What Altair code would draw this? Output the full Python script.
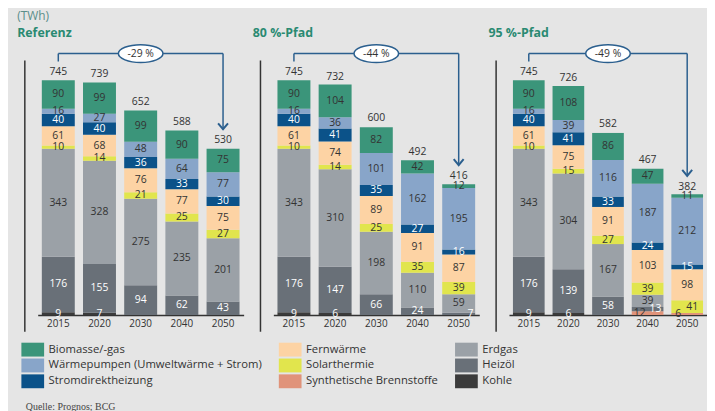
import altair as alt
import pandas as pd

# ---------------- data ----------------
years = ["2015", "2020", "2030", "2040", "2050"]
scenarios = ["Referenz", "80 %-Pfad", "95 %-Pfad"]
reductions = ["-29 %", "-44 %", "-49 %"]

# stacking order bottom -> top
stack_order = ["Synthetische Brennstoffe", "Kohle", "Heizöl", "Erdgas", "Solarthermie",
               "Fernwärme", "Stromdirektheizung", "Wärmepumpen (Umweltwärme + Strom)", "Biomasse/-gas"]

# one row per scenario (Referenz, 80 %, 95 %), one value per year
biomasse = [[90, 99, 99, 90, 75], [90, 104, 82, 42, 12], [90, 108, 86, 47, 11]]
waermepumpen = [[16, 27, 48, 64, 77], [16, 36, 101, 162, 195], [16, 39, 116, 187, 212]]
stromdirekt = [[40, 40, 36, 33, 30], [40, 41, 35, 27, 16], [40, 41, 33, 24, 15]]
fernwaerme = [[61, 68, 76, 77, 75], [61, 74, 89, 91, 87], [61, 75, 91, 103, 98]]
solarthermie = [[10, 14, 21, 25, 27], [10, 14, 25, 35, 39], [10, 15, 27, 39, 41]]
synthetisch = [[0, 0, 0, 0, 0], [0, 0, 0, 0, 0], [0, 0, 0, 12, 6]]
erdgas = [[343, 328, 275, 235, 201], [343, 310, 198, 110, 59], [343, 304, 167, 39, 0]]
heizoel = [[176, 155, 94, 62, 43], [176, 147, 66, 24, 7], [176, 139, 58, 13, 0]]
kohle = [[9, 7, 0, 0, 0], [9, 6, 0, 0, 0], [9, 6, 0, 0, 0]]
totals = [[745, 739, 652, 588, 530], [745, 732, 600, 492, 416], [745, 726, 582, 467, 382]]

series = {
    "Synthetische Brennstoffe": synthetisch,
    "Kohle": kohle,
    "Heizöl": heizoel,
    "Erdgas": erdgas,
    "Solarthermie": solarthermie,
    "Fernwärme": fernwaerme,
    "Stromdirektheizung": stromdirekt,
    "Wärmepumpen (Umweltwärme + Strom)": waermepumpen,
    "Biomasse/-gas": biomasse,
}

# legend order (filled column by column, 3 columns)
legend_order = ["Biomasse/-gas", "Wärmepumpen (Umweltwärme + Strom)", "Stromdirektheizung",
                "Fernwärme", "Solarthermie", "Synthetische Brennstoffe",
                "Erdgas", "Heizöl", "Kohle"]
colors = {
    "Biomasse/-gas": "#3b957a",
    "Fernwärme": "#fdd3a4",
    "Erdgas": "#9ba1a7",
    "Wärmepumpen (Umweltwärme + Strom)": "#88a5c9",
    "Solarthermie": "#e1e54d",
    "Heizöl": "#697078",
    "Stromdirektheizung": "#0b5289",
    "Synthetische Brennstoffe": "#e0937a",
    "Kohle": "#3b3b3b",
}
white_text = {"Stromdirektheizung", "Heizöl", "Kohle"}
# small label nudges for crowded thin segments (scenario idx, year, category) -> px
nudge = {(1, "2050", "Heizöl"): 12, (2, "2040", "Synthetische Brennstoffe"): -8,
         (2, "2040", "Heizöl"): 8, (2, "2050", "Synthetische Brennstoffe"): -9,
         (2, "2050", "Solarthermie"): 5}

rows = []
for si, sc in enumerate(scenarios):
    for yi, yr in enumerate(years):
        base = 0
        for cat in stack_order:
            v = series[cat][si][yi]
            rows.append(dict(scenario=sc, year=yr, category=cat, value=v, y0=base, y1=base + v,
                             mid=base + v / 2,
                             tcol="#ffffff" if cat in white_text else "#333333",
                             dx=nudge.get((si, yr, cat), 0)))
            base += v
df = pd.DataFrame(rows)

tot_df = pd.DataFrame([dict(scenario=sc, year=yr, total=totals[si][yi])
                       for si, sc in enumerate(scenarios) for yi, yr in enumerate(years)])

# ---------------- styling ----------------
FONT = "Open Sans"
WIDTHS = [208, 208, 200]
H = 257
BLUE = "#2b5f8e"

x_scale = alt.Scale(domain=years, paddingInner=0.2, paddingOuter=0.1)
y_scale = alt.Scale(domain=[0, 808], nice=False, zero=True)
x_axis = alt.Axis(title=None, labelAngle=0, ticks=False, domain=True, domainColor="#333333",
                  domainWidth=1.5, labelFontSize=10, labelColor="#333333", labelFont=FONT,
                  labelPadding=4, grid=False)
X = alt.X("year:N", scale=x_scale, axis=x_axis)

rect_path = "M-1.64,-1L1.64,-1L1.64,1L-1.64,1Z"
legend = alt.Legend(title="Quelle: Prognos; BCG", titleOrient="bottom", titleAnchor="start",
                    titleFont="Liberation Serif", titleFontSize=10, titleFontWeight="normal",
                    titleColor="#444444", titlePadding=14,
                    orient="none", legendX=-12, legendY=285, columns=3,
                    symbolType=rect_path, symbolSize=196, symbolStrokeWidth=0, symbolOpacity=1,
                    labelOffset=9, columnPadding=16, rowPadding=2,
                    labelFontSize=11.4, labelFont=FONT, labelColor="#333333", labelLimit=400)
c_scale = alt.Scale(domain=legend_order, range=[colors[c] for c in legend_order])

ellipse_path = "M-1.25,0A1.25,0.5 0 1,0 1.25,0A1.25,0.5 0 1,0 -1.25,0Z"
chevron_path = "M-1,-0.6L0,0.6L1,-0.6"

panels = []
for si, sc in enumerate(scenarios):
    d = df[df.scenario == sc]
    dl = d[d.value > 0]
    t = tot_df[tot_df.scenario == sc]
    br = pd.DataFrame([dict(first=years[0], last=years[-1], mid=years[2],
                            total_last=totals[si][-1], pct=reductions[si])])
    one = pd.DataFrame([dict(a=1)])

    bars = alt.Chart(d).mark_bar().encode(
        x=X,
        y=alt.Y("y0:Q", scale=y_scale, axis=None),
        y2="y1:Q",
        color=alt.Color("category:N", scale=c_scale, legend=legend),
    )
    label_layers = []
    for dxv in sorted(dl.dx.unique()):
        sub = dl[dl.dx == dxv]
        label_layers.append(
            alt.Chart(sub).mark_text(font=FONT, fontSize=10.5, baseline="middle", dx=float(dxv)).encode(
                x=X,
                y=alt.Y("mid:Q", scale=y_scale, axis=None),
                text="value:Q",
                color=alt.Color("tcol:N", scale=None),
            )
        )
    tot = alt.Chart(t).mark_text(font=FONT, fontSize=10.5, dy=-8, color="#333333").encode(
        x=X, y=alt.Y("total:Q", scale=y_scale, axis=None), text="total:Q"
    )
    yline = alt.Chart(one).mark_rule(color="#333333", strokeWidth=1.5).encode(
        x=alt.value(-13), y=alt.value(0), y2=alt.value(H + 17)
    )
    b_left = alt.Chart(br).mark_rule(color=BLUE, strokeWidth=1.5).encode(
        x=alt.X("first:N", scale=x_scale, axis=x_axis), y=alt.value(-7), y2=alt.value(1)
    )
    b_h = alt.Chart(br).mark_rule(color=BLUE, strokeWidth=1.5).encode(
        x=alt.X("first:N", scale=x_scale, axis=x_axis), x2="last:N", y=alt.value(-7)
    )
    b_right = alt.Chart(br).mark_rule(color=BLUE, strokeWidth=1.5, yOffset=-19).encode(
        x=alt.X("last:N", scale=x_scale, axis=x_axis),
        y=alt.Y("total_last:Q", scale=y_scale, axis=None), y2=alt.value(-7)
    )
    arrow = alt.Chart(br).mark_point(shape=chevron_path, size=100, filled=False, color=BLUE,
                                     strokeWidth=2, opacity=1, yOffset=-22).encode(
        x=alt.X("last:N", scale=x_scale, axis=x_axis),
        y=alt.Y("total_last:Q", scale=y_scale, axis=None)
    )
    ell = alt.Chart(br).mark_point(shape=ellipse_path, size=1296, filled=True, fill="white",
                                   stroke=BLUE, strokeWidth=1.5, opacity=1).encode(
        x=alt.X("mid:N", scale=x_scale, axis=x_axis), y=alt.value(-7)
    )
    pct = alt.Chart(br).mark_text(font=FONT, fontSize=10.5, color="#333333").encode(
        x=alt.X("mid:N", scale=x_scale, axis=x_axis), y=alt.value(-7), text="pct:N"
    )
    panel = alt.layer(bars, *label_layers, tot, yline, b_left, b_h, b_right, arrow, ell, pct).properties(
        width=WIDTHS[si], height=H,
        title=alt.TitleParams(sc, anchor="start", dx=-7, fontSize=12.5, fontWeight="bold",
                              color="#2a8a72", font=FONT, offset=2),
    )
    panels.append(panel)

chart = alt.hconcat(*panels, spacing=30, bounds="flush",
                    title=alt.TitleParams("(TWh)", anchor="start", fontSize=12, fontWeight="normal",
                                          color="#5b8e8a", font=FONT, offset=4)
                    ).resolve_scale(color="shared").properties(
    background="#e5e5e5", padding={"left": 9, "top": 0, "right": 0, "bottom": 2}
).configure_view(stroke=None)

chart.save("out.html", embed_options={"renderer": "svg", "actions": False})
